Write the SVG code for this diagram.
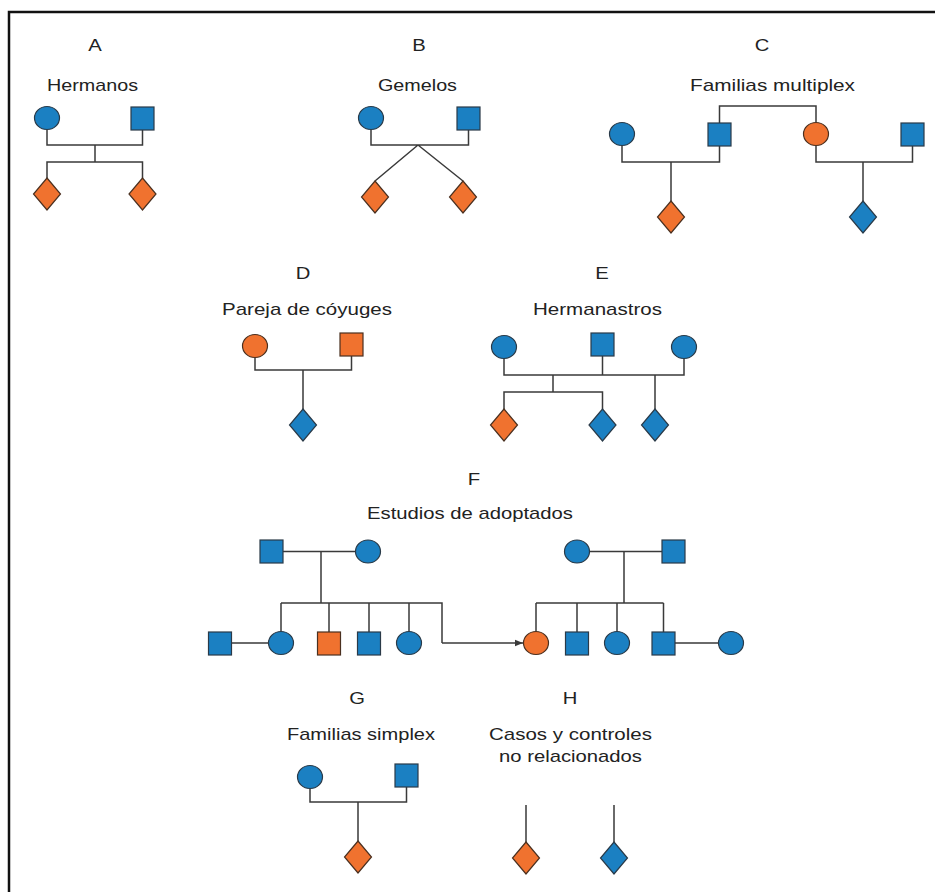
<svg xmlns="http://www.w3.org/2000/svg" width="935" height="892" viewBox="0 0 935 892">
  <style>
    .lbl { font-family: "Liberation Sans", Arial, sans-serif; font-size: 17px; fill: #222; text-anchor: middle; }
    .blue { fill: #1b80c2; stroke: #2a3a48; stroke-width: 1.2; }
    .orange { fill: #f0722f; stroke: #4a3020; stroke-width: 1.2; }
    .link { fill: none; stroke: #3a3a3a; stroke-width: 1.5; }
    .frame { fill: none; stroke: #111; stroke-width: 2.5; }
  </style>
  <defs>
    <!-- reusable pedigree symbols, centred on the origin -->
    <ellipse id="circ" cx="0" cy="0" rx="12.5" ry="11.5"/>
    <rect id="sq" x="-11.5" y="-11.5" width="23" height="23"/>
    <polygon id="dia" points="0,-16 13.5,0 0,16 -13.5,0"/>
    <marker id="arrow" viewBox="0 0 10 10" refX="10" refY="5" markerWidth="8" markerHeight="8" markerUnits="userSpaceOnUse" orient="auto">
      <path d="M0,1 L10,5 L0,9 z" fill="#3a3a3a"/>
    </marker>
  </defs>

  <rect width="935" height="892" fill="#ffffff"/>
  <path class="frame" d="M9 892 V12 H935"/>

  <!-- headings -->
  <g id="labels">
    <text class="lbl" x="95" y="51" textLength="13.5" lengthAdjust="spacingAndGlyphs">A</text>
    <text class="lbl" x="92.5" y="91" textLength="91" lengthAdjust="spacingAndGlyphs">Hermanos</text>
    <text class="lbl" x="419" y="51" textLength="13.5" lengthAdjust="spacingAndGlyphs">B</text>
    <text class="lbl" x="417.5" y="91" textLength="79" lengthAdjust="spacingAndGlyphs">Gemelos</text>
    <text class="lbl" x="762" y="51" textLength="14.6" lengthAdjust="spacingAndGlyphs">C</text>
    <text class="lbl" x="772.5" y="91" textLength="165" lengthAdjust="spacingAndGlyphs">Familias multiplex</text>
    <text class="lbl" x="303" y="279" textLength="14.6" lengthAdjust="spacingAndGlyphs">D</text>
    <text class="lbl" x="307" y="315" textLength="170" lengthAdjust="spacingAndGlyphs">Pareja de cóyuges</text>
    <text class="lbl" x="602" y="279" textLength="13.5" lengthAdjust="spacingAndGlyphs">E</text>
    <text class="lbl" x="597.5" y="315" textLength="129" lengthAdjust="spacingAndGlyphs">Hermanastros</text>
    <text class="lbl" x="474" y="485" textLength="12.4" lengthAdjust="spacingAndGlyphs">F</text>
    <text class="lbl" x="470" y="519" textLength="206" lengthAdjust="spacingAndGlyphs">Estudios de adoptados</text>
    <text class="lbl" x="357" y="704" textLength="15.7" lengthAdjust="spacingAndGlyphs">G</text>
    <text class="lbl" x="361" y="740" textLength="148" lengthAdjust="spacingAndGlyphs">Familias simplex</text>
    <text class="lbl" x="570" y="704" textLength="14.6" lengthAdjust="spacingAndGlyphs">H</text>
    <text class="lbl" x="570.5" y="740" textLength="163" lengthAdjust="spacingAndGlyphs">Casos y controles</text>
    <text class="lbl" x="570.5" y="762" textLength="143" lengthAdjust="spacingAndGlyphs">no relacionados</text>
  </g>

  <!-- connectors -->
  <g id="connectors" class="link">
    <!-- A -->
    <path d="M47 129.5 V145 H142.5 V130 M95 145 V162 M47 178 V162 H142.5 V178"/>
    <!-- B -->
    <path d="M371 129.5 V145 H468.5 V130 M418 145 L375 181 M418 145 L463 181"/>
    <!-- C -->
    <path d="M719.5 123 V106 H816 V122.5"/>
    <path d="M622 145.5 V162 H719.5 V146 M671 162 V201"/>
    <path d="M816 145.5 V162 H912.5 V146 M863 162 V201"/>
    <!-- D -->
    <path d="M255 357.5 V370 H351.5 V356 M303 370 V409"/>
    <!-- E -->
    <path d="M504 358.5 V375 H684 V358.5 M602.5 356 V375 M553 375 V392 M504 409 V392 H602.5 V409 M655 375 V409"/>
    <!-- F, biological family -->
    <path d="M283 551.5 H355.5 M321 551.5 V603 M281 603 H442 V643"/>
    <path d="M281 603 V631.5 M329 603 V632 M369 603 V632 M409 603 V631.5 M231.5 643 H268.5"/>
    <path d="M442 643 H523" marker-end="url(#arrow)"/>
    <!-- F, adoptive family -->
    <path d="M589.5 551.5 H662 M624 551.5 V603 M536 603 H663.5 M536 603 V631.5 M577 603 V632 M617 603 V631.5 M663.5 603 V632 M675 643 H718.5"/>
    <!-- G -->
    <path d="M310 788.5 V802 H406.5 V787 M358 802 V841"/>
    <!-- H -->
    <path d="M526 805 V842 M614 805 V842"/>
  </g>

  <!-- A: siblings -->
  <g id="a-mother"><use href="#circ" class="blue" x="47" y="118"/></g>
  <g id="a-father"><use href="#sq" class="blue" x="142.5" y="118.5"/></g>
  <g id="a-child1"><use href="#dia" class="orange" x="47" y="194"/></g>
  <g id="a-child2"><use href="#dia" class="orange" x="142.5" y="194"/></g>

  <!-- B: twins -->
  <g id="b-mother"><use href="#circ" class="blue" x="371" y="118"/></g>
  <g id="b-father"><use href="#sq" class="blue" x="468.5" y="118.5"/></g>
  <g id="b-twin1"><use href="#dia" class="orange" x="375" y="197"/></g>
  <g id="b-twin2"><use href="#dia" class="orange" x="463" y="197"/></g>

  <!-- C: multiplex families -->
  <g id="c-mother1"><use href="#circ" class="blue" x="622" y="134"/></g>
  <g id="c-father1"><use href="#sq" class="blue" x="719.5" y="134.5"/></g>
  <g id="c-mother2"><use href="#circ" class="orange" x="816" y="134"/></g>
  <g id="c-father2"><use href="#sq" class="blue" x="912.5" y="134.5"/></g>
  <g id="c-child1"><use href="#dia" class="orange" x="671" y="217"/></g>
  <g id="c-child2"><use href="#dia" class="blue" x="863" y="217"/></g>

  <!-- D: spouse pair -->
  <g id="d-mother"><use href="#circ" class="orange" x="255" y="346"/></g>
  <g id="d-father"><use href="#sq" class="orange" x="351.5" y="344.5"/></g>
  <g id="d-child"><use href="#dia" class="blue" x="303" y="425"/></g>

  <!-- E: half-siblings -->
  <g id="e-mother1"><use href="#circ" class="blue" x="504" y="347"/></g>
  <g id="e-father"><use href="#sq" class="blue" x="602.5" y="344.5"/></g>
  <g id="e-mother2"><use href="#circ" class="blue" x="684" y="347"/></g>
  <g id="e-child1"><use href="#dia" class="orange" x="504" y="425"/></g>
  <g id="e-child2"><use href="#dia" class="blue" x="602.5" y="425"/></g>
  <g id="e-child3"><use href="#dia" class="blue" x="655" y="425"/></g>

  <!-- F: adoption study, biological family -->
  <g id="f-bio-father"><use href="#sq" class="blue" x="271.5" y="551.5"/></g>
  <g id="f-bio-mother"><use href="#circ" class="blue" x="368" y="551.5"/></g>
  <g id="f-bio-inlaw"><use href="#sq" class="blue" x="220" y="643.5"/></g>
  <g id="f-bio-c1"><use href="#circ" class="blue" x="281" y="643"/></g>
  <g id="f-bio-c2"><use href="#sq" class="orange" x="329" y="643.5"/></g>
  <g id="f-bio-c3"><use href="#sq" class="blue" x="369" y="643.5"/></g>
  <g id="f-bio-c4"><use href="#circ" class="blue" x="409" y="643"/></g>

  <!-- F: adoptive family -->
  <g id="f-ad-mother"><use href="#circ" class="blue" x="577" y="551.5"/></g>
  <g id="f-ad-father"><use href="#sq" class="blue" x="673.5" y="551.5"/></g>
  <g id="f-ad-c1"><use href="#circ" class="orange" x="536" y="643"/></g>
  <g id="f-ad-c2"><use href="#sq" class="blue" x="577" y="643.5"/></g>
  <g id="f-ad-c3"><use href="#circ" class="blue" x="617" y="643"/></g>
  <g id="f-ad-c4"><use href="#sq" class="blue" x="663.5" y="643.5"/></g>
  <g id="f-ad-inlaw"><use href="#circ" class="blue" x="731" y="643"/></g>

  <!-- G: simplex family -->
  <g id="g-mother"><use href="#circ" class="blue" x="310" y="777"/></g>
  <g id="g-father"><use href="#sq" class="blue" x="406.5" y="775.5"/></g>
  <g id="g-child"><use href="#dia" class="orange" x="358" y="857"/></g>

  <!-- H: unrelated cases and controls -->
  <g id="h-case"><use href="#dia" class="orange" x="526" y="858"/></g>
  <g id="h-control"><use href="#dia" class="blue" x="614" y="858"/></g>
</svg>
